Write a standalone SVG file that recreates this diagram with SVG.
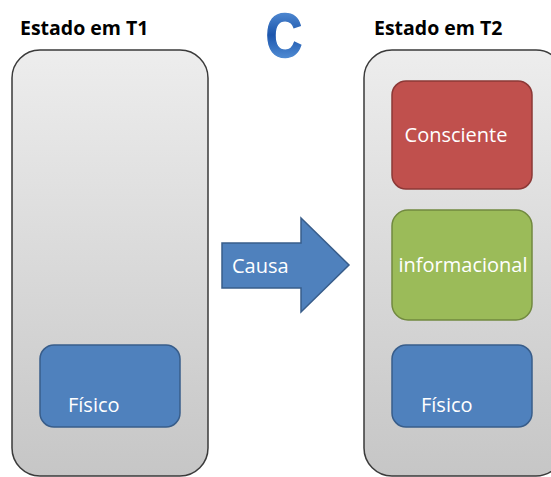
<svg xmlns="http://www.w3.org/2000/svg" width="551" height="477" viewBox="0 0 551 477">
<defs>
<linearGradient id="cont" x1="0" y1="0" x2="0" y2="1">
<stop offset="0" stop-color="#ededed"/>
<stop offset="1" stop-color="#c6c6c6"/>
</linearGradient>
<linearGradient id="cg" x1="0" y1="0" x2="0" y2="1">
<stop offset="0" stop-color="#6aa3e3"/>
<stop offset="0.5" stop-color="#1c56ad"/>
<stop offset="1" stop-color="#6aa6e6"/>
</linearGradient>
<style>
.cont{fill:url(#cont);stroke:#3a3a3a;stroke-width:1.5}
.title{font-family:"Open Sans","Liberation Sans",sans-serif;font-weight:bold;font-size:19.5px;fill:#000}
.lbl{font-family:"Open Sans","Liberation Sans",sans-serif;font-size:20px;fill:#fff}
.red{fill:#c0504d;stroke:#8c3836;stroke-width:1.5}
.green{fill:#9bbb59;stroke:#71893f;stroke-width:1.5}
.blue{fill:#4f81bd;stroke:#385d8a;stroke-width:1.5}
</style>
</defs>
<rect width="551" height="477" fill="#fff"/>
<text class="title" x="20" y="35">Estado em T1</text>
<text class="title" x="374" y="35">Estado em T2</text>
<text transform="translate(284,57) scale(0.8,1)" x="0" y="0" text-anchor="middle" font-family="Liberation Sans, sans-serif" font-weight="bold" font-size="63" fill="url(#cg)" stroke="url(#cg)" stroke-width="1.5">C</text>
<g id="t1">
<rect class="cont" x="12" y="50" width="196" height="426" rx="28"/>
</g>
<g id="t2">
<rect class="cont" x="364" y="50" width="200" height="426" rx="28"/>
</g>
<g id="fisico1">
<rect class="blue" x="40" y="345" width="140" height="82" rx="14"/>
<text class="lbl" x="68" y="412">Físico</text>
</g>
<g id="consciente">
<rect class="red" x="392" y="81" width="140" height="108" rx="14"/>
<text class="lbl" x="456" y="142" text-anchor="middle">Consciente</text>
</g>
<g id="informacional">
<rect class="green" x="392" y="210" width="140" height="110" rx="16"/>
<text class="lbl" x="463" y="272" text-anchor="middle">informacional</text>
</g>
<g id="fisico2">
<rect class="blue" x="392" y="345" width="140" height="82" rx="14"/>
<text class="lbl" x="421" y="412">Físico</text>
</g>
<g id="connectors">
<path class="blue" d="M222 243 H301 V218 L349 265 L301 312 V288 H222 Z"/>
<text class="lbl" x="232" y="273">Causa</text>
</g>
</svg>
